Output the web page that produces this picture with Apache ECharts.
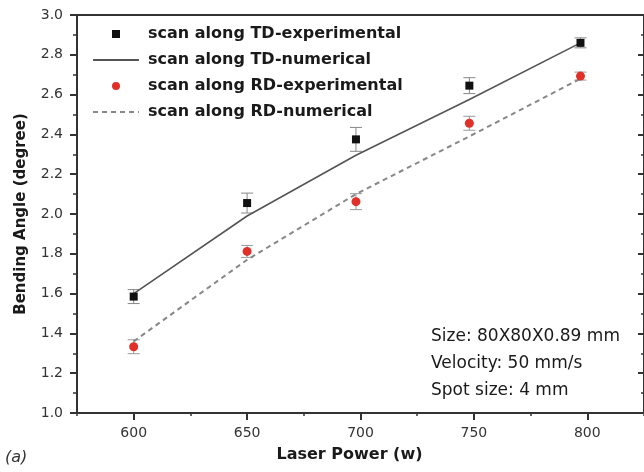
<!DOCTYPE html>
<html>
<head>
<meta charset="utf-8">
<script src="https://cdn.jsdelivr.net/npm/echarts@6/dist/echarts.min.js"></script>
<style>html,body{margin:0;padding:0;background:#fff}#c{width:644px;height:472px}</style>
</head>
<body>
<div id="c"></div>
<script>
// ---- data ----
var power = [600, 650, 698, 748, 797];
var tdExp = [1.585, 2.055, 2.375, 2.645, 2.86];
var tdErr = [0.035, 0.05, 0.06, 0.04, 0.025];
var tdNum = [1.60, 1.99, 2.295, 2.575, 2.86];
var rdExp = [1.333, 1.812, 2.062, 2.456, 2.693];
var rdErr = [0.035, 0.03, 0.04, 0.035, 0.02];
var rdNum = [1.36, 1.77, 2.10, 2.39, 2.68];
var xTicks = [600, 650, 700, 750, 800];
var seriesNames = ['scan along TD-experimental', 'scan along TD-numerical', 'scan along RD-experimental', 'scan along RD-numerical'];
var noteLines = ['Size: 80X80X0.89 mm', 'Velocity: 50 mm/s', 'Spot size: 4 mm'];

function pairs(xs, ys) { return xs.map(function (x, i) { return [x, ys[i]]; }); }
function errData(xs, ys, es) { return xs.map(function (x, i) { return [x, ys[i] - es[i], ys[i] + es[i]]; }); }

var FONT = 'DejaVu Sans';
var axisLineStyle = { color: '#333', width: 2 };

function errorBarSeries(data, color) {
  return {
    type: 'custom', xAxisIndex: 0, yAxisIndex: 0, z: 1, silent: true,
    data: data,
    renderItem: function (params, api) {
      var lo = api.coord([api.value(0), api.value(1)]);
      var hi = api.coord([api.value(0), api.value(2)]);
      var hw = 6;
      var st = { stroke: color, lineWidth: 1 };
      return { type: 'group', children: [
        { type: 'line', shape: { x1: lo[0], y1: lo[1], x2: hi[0], y2: hi[1] }, style: st },
        { type: 'line', shape: { x1: lo[0] - hw, y1: lo[1], x2: lo[0] + hw, y2: lo[1] }, style: st },
        { type: 'line', shape: { x1: hi[0] - hw, y1: hi[1], x2: hi[0] + hw, y2: hi[1] }, style: st }
      ]};
    }
  };
}

var chart = echarts.init(document.getElementById('c'), null, { renderer: 'canvas' });
chart.setOption({
  animation: false,
  backgroundColor: '#fff',
  grid: { left: 77, right: -3, top: 15, bottom: 59 },
  legend: {
    data: [
      { name: seriesNames[0] },
      { name: seriesNames[1], itemStyle: { opacity: 0 } },
      { name: seriesNames[2] },
      { name: seriesNames[3], itemStyle: { opacity: 0 } }
    ],
    orient: 'vertical', left: 92, top: 26, padding: 0,
    itemWidth: 46, itemHeight: 10, itemGap: 10,
    textStyle: { fontFamily: FONT, fontSize: 16, fontWeight: 'bold', color: '#1a1a1a', lineHeight: 16, padding: [0, 0, 0, 4] }
  },
  xAxis: [
    { type: 'value', min: 575, max: 825, interval: 25, position: 'bottom',
      axisLine: { show: true, onZero: false, lineStyle: axisLineStyle },
      axisTick: { show: true, length: 3, lineStyle: { color: '#333', width: 1.5 } },
      axisLabel: { show: false }, splitLine: { show: false } },
    { type: 'value', min: 575, max: 825, position: 'bottom',
      axisLine: { show: true, onZero: false, lineStyle: axisLineStyle },
      axisTick: { show: true, length: 7, customValues: xTicks, lineStyle: { color: '#333', width: 2 } },
      axisLabel: { show: true, customValues: xTicks, margin: 13, fontFamily: FONT, fontSize: 14, color: '#333' },
      splitLine: { show: false },
      name: 'Laser Power (w)', nameLocation: 'middle', nameGap: 34,
      nameTextStyle: { fontFamily: FONT, fontSize: 16, fontWeight: 'bold', color: '#1a1a1a', padding: [0, 22, 0, 0] } },
    { type: 'value', min: 575, max: 825, position: 'top',
      axisLine: { show: true, onZero: false, lineStyle: axisLineStyle },
      axisTick: { show: false }, axisLabel: { show: false }, splitLine: { show: false } }
  ],
  yAxis: [
    { type: 'value', min: 1, max: 3, interval: 0.2, position: 'left',
      axisLine: { show: true, onZero: false, lineStyle: axisLineStyle },
      axisTick: { show: true, length: 7, lineStyle: { color: '#333', width: 2 } },
      minorTick: { show: true, splitNumber: 2, length: 4, lineStyle: { color: '#333', width: 1.5 } },
      axisLabel: { margin: 14, fontFamily: FONT, fontSize: 14, color: '#333', formatter: function (v) { return v.toFixed(1); } },
      splitLine: { show: false },
      name: 'Bending Angle (degree)', nameLocation: 'middle', nameGap: 48, nameRotate: 90,
      nameTextStyle: { fontFamily: FONT, fontSize: 15, fontWeight: 'bold', color: '#1a1a1a' } },
    { type: 'value', min: 1, max: 3, interval: 0.2, position: 'right',
      axisLine: { show: true, onZero: false, lineStyle: axisLineStyle },
      axisTick: { show: true, inside: true, length: 6, lineStyle: { color: '#333', width: 2 } },
      minorTick: { show: true, splitNumber: 2, length: 3, lineStyle: { color: '#333', width: 1.5 } },
      axisLabel: { show: false }, splitLine: { show: false } }
  ],
  series: [
    errorBarSeries(errData(power, tdExp, tdErr), '#888'),
    errorBarSeries(errData(power, rdExp, rdErr), '#999'),
    { name: seriesNames[1], type: 'line', xAxisIndex: 0, yAxisIndex: 0, z: 2,
      data: pairs(power, tdNum), symbol: 'none',
      lineStyle: { color: '#555', width: 1.6, type: 'solid' }, itemStyle: { color: '#555' } },
    { name: seriesNames[3], type: 'line', xAxisIndex: 0, yAxisIndex: 0, z: 2,
      data: pairs(power, rdNum), symbol: 'none',
      lineStyle: { color: '#888', width: 2, type: [5, 4] }, itemStyle: { color: '#888' } },
    { name: seriesNames[0], type: 'line', xAxisIndex: 0, yAxisIndex: 0, z: 3,
      data: pairs(power, tdExp), symbol: 'rect', symbolSize: 8, showSymbol: true,
      lineStyle: { opacity: 0 }, itemStyle: { color: '#111' } },
    { name: seriesNames[2], type: 'line', xAxisIndex: 0, yAxisIndex: 0, z: 3,
      data: pairs(power, rdExp), symbol: 'circle', symbolSize: 9, showSymbol: true,
      lineStyle: { opacity: 0 }, itemStyle: { color: '#e0302a' } }
  ],
  graphic: [
    { type: 'text', left: 431, top: 323,
      style: { text: noteLines.join('\n'), fontFamily: FONT, fontSize: 17, lineHeight: 27, fill: '#1a1a1a' } },
    { type: 'text', left: 5, top: 450,
      style: { text: '(a)', fontFamily: FONT, fontSize: 16, fontStyle: 'italic', fill: '#333' } }
  ]
});
</script>
</body>
</html>
